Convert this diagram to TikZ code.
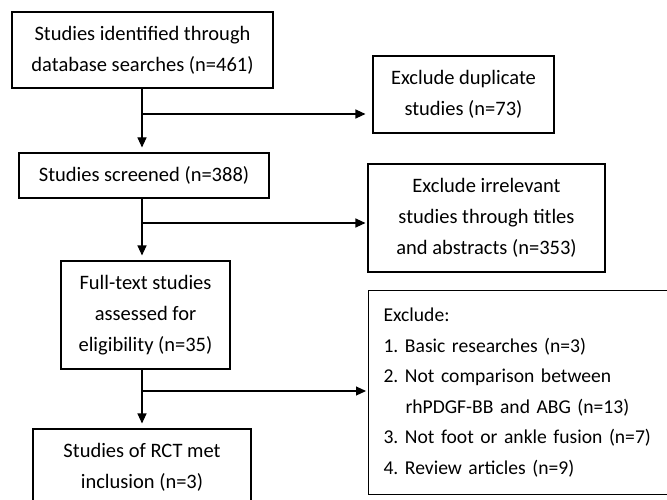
\documentclass[tikz,border=0pt]{standalone}
\usepackage{fontspec}
\setmainfont{Carlito}
\usetikzlibrary{arrows.meta}
\frenchspacing
\begin{document}
\begin{tikzpicture}[x=1pt,y=-1pt,line width=1.1pt,>={Triangle[length=10pt,width=9pt]}]
            \tikzstyle{box}=[draw,align=center,inner sep=0pt,font=\fontsize{20.5}{31}\selectfont]
            \tikzstyle{flow}=[->,shorten >=5pt]
            \useasboundingbox (0,0) rectangle (667,500);
            \clip (0,0) rectangle (667,500);
            \node[box,minimum width=261,minimum height=76](ident) at (142.5,50){Studies identified through\\database searches (n=461)};
            \node[box,minimum width=181,minimum height=77](dup) at (463.5,94.5){Exclude duplicate\\studies (n=73)};
            \node[box,minimum width=250,minimum height=45](screened) at (144,175.5){Studies screened (n=388)};
            \node[box,minimum width=237,minimum height=108](irrel) at (486.5,218){Exclude irrelevant\\studies through titles\\and abstracts (n=353)};
            \node[box,minimum width=169,minimum height=108](full) at (145.5,315){Full-text studies\\assessed for\\eligibility (n=35)};
            \node[box,align=left,anchor=north west,inner xsep=15pt,text width=300pt,minimum width=302,minimum height=204,font=\fontsize{19.6}{30.5}\selectfont](excl) at (368,290){Exclude:\\1. Basic researches (n=3)\\2. Not comparison between\\\hspace*{22pt}rhPDGF-BB and ABG (n=13)\\3. Not foot or ankle fusion (n=7)\\4. Review articles (n=9)};
            \node[box,minimum width=218,minimum height=76](rct) at (142,467){Studies of RCT met\\inclusion (n=3)};
            \coordinate (trunk) at (142,0);
            \coordinate (b1) at (142,114);
            \coordinate (b2) at (142,223);
            \coordinate (b3) at (142,391);
            \draw[flow] (ident.south -| trunk) -- (screened.north -| trunk);
            \draw[flow] (screened.south -| trunk) -- (full.north -| trunk);
            \draw[flow] (full.south -| trunk) -- (rct.north -| trunk);
            \draw[flow,shorten >=7pt] (b1) -- (dup.west |- b1);
            \draw[flow,shorten >=2pt] (b2) -- (irrel.west |- b2);
            \draw[flow,shorten >=2pt] (b3) -- (excl.west |- b3);
          \end{tikzpicture}
\end{document}
